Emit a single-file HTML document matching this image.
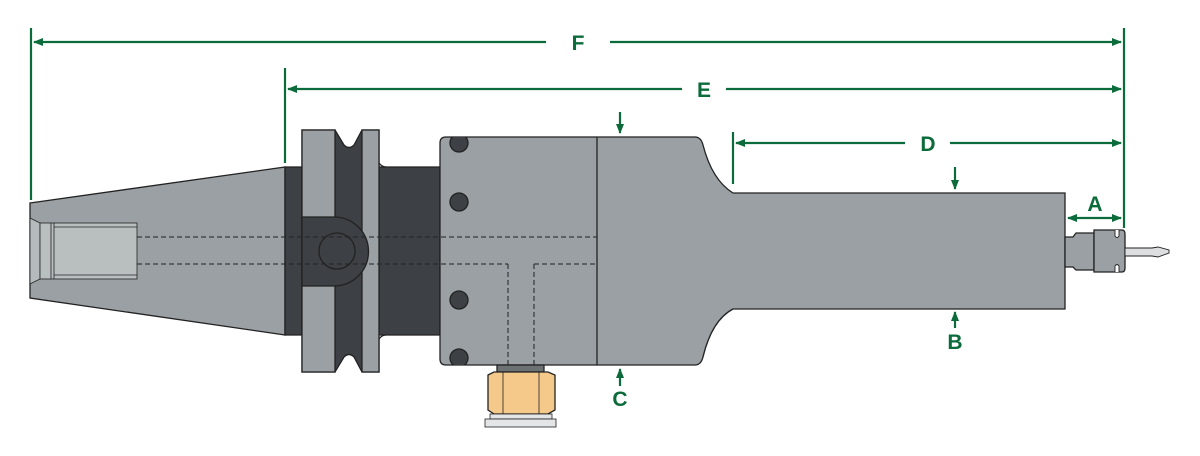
<!DOCTYPE html>
<html><head><style>
html,body{margin:0;padding:0;background:#fff;}
svg{display:block}
text{font-family:"Liberation Sans",sans-serif;font-weight:bold;fill:#0b6b3a;font-size:21px;text-anchor:middle}
</style></head><body>
<svg width="1200" height="456" viewBox="0 0 1200 456" xmlns="http://www.w3.org/2000/svg">
<defs>
<marker id="ar" markerWidth="10" markerHeight="8" refX="9" refY="4" orient="auto" markerUnits="userSpaceOnUse">
<path d="M0,0 L10,4 L0,8 Z" fill="#0b6b3a"/></marker>
<clipPath id="blk"><rect x="440" y="137" width="160" height="228" rx="6"/></clipPath>
</defs>
<g stroke="#222" stroke-width="1.3">
<path d="M30,203 L285,167 L285,335 L30,298 Z" fill="#9aa0a3"/>
<path d="M30,218 L40,223 L40,279 L30,284 Z" fill="#b5babc" stroke-width="0.8"/>
<rect x="40" y="223" width="97" height="56" fill="#b9bebf" stroke-width="0.8"/>
<line x1="51" y1="223" x2="51" y2="279" stroke-width="0.8"/>
<line x1="54" y1="223" x2="54" y2="279" stroke-width="0.8"/>
<line x1="54" y1="227" x2="137" y2="227" stroke-width="0.8"/>
<line x1="54" y1="275" x2="137" y2="275" stroke-width="0.8"/>
<path d="M285,167 L440,167 L440,335 L285,335 Z" fill="#3d4044"/>
<path d="M302,130 L335,130 L344,145 Q349,150 354,145 L362,130 L379,130 L379,372 L362,372 L354,357 Q349,352 344,357 L335,372 L302,372 Z" fill="#3d4044"/>
<rect x="302" y="130" width="33" height="242" fill="#9aa0a3"/>
<rect x="362" y="130" width="17" height="242" fill="#9aa0a3"/>
<path d="M302,217 L334,217 A34,34 0 0 1 334,286 L302,286 Z" fill="#3d4044"/>
<circle cx="337" cy="251" r="18" fill="#3d4044"/>
<path d="M379,163 Q382,167 386,167 M379,339 Q382,335 386,335" fill="none"/>
<path d="M446,137 L695,137 Q701,137 703,145 Q712,180 733,193 L1065,193 L1065,309 L733,309 Q712,320 703,357 Q701,365 695,365 L446,365 Q440,365 440,359 L440,143 Q440,137 446,137 Z" fill="#9aa0a3"/>
<line x1="597" y1="137" x2="597" y2="365"/>
<g clip-path="url(#blk)">
<circle cx="459" cy="143" r="9" fill="#3d4044"/>
<circle cx="459" cy="202" r="9" fill="#3d4044"/>
<circle cx="459" cy="300" r="9" fill="#3d4044"/>
<circle cx="459" cy="358" r="9" fill="#3d4044"/>
</g>
<g stroke-dasharray="5,3" stroke-width="1" fill="none">
<line x1="137" y1="237" x2="597" y2="237"/>
<line x1="137" y1="264" x2="508" y2="264"/>
<line x1="534" y1="264" x2="597" y2="264"/>
<line x1="508" y1="264" x2="508" y2="365"/>
<line x1="534" y1="264" x2="534" y2="365"/>
</g>
<rect x="497" y="365" width="47" height="7" fill="#6c7174"/>
<path d="M488,375 L494,372 L548,372 L555,375 L555,410 L548,414 L494,414 L488,410 Z" fill="#f5c98a"/>
<line x1="503" y1="372" x2="503" y2="414" stroke-width="0.8"/>
<line x1="539" y1="372" x2="539" y2="414" stroke-width="0.8"/>
<rect x="490" y="414" width="62" height="5" fill="#e3e5e6" stroke-width="0.8"/>
<rect x="485" y="419" width="71" height="8" fill="#e3e5e6" stroke-width="0.8"/>
<path d="M1065,237 L1073,237 L1076,233 L1094,233 L1094,270 L1076,270 L1073,267 L1065,267 Z" fill="#9aa0a3"/>
<path d="M1094,230 L1122,230 Q1125,230 1125,234 L1125,268 Q1125,272 1122,272 L1094,272 Z" fill="#9aa0a3"/>
<path d="M1115,230 L1115,236 Q1117,239 1119,236 L1119,230 M1115,272 L1115,266 Q1117,263 1119,266 L1119,272" fill="#fff" stroke-width="0.9"/>
<path d="M1125,248 L1152,248 L1158,247 L1169,250 L1169,253 L1158,257 L1152,256 L1125,256 Z" fill="#dcdedf" stroke-width="0.9"/>
</g>
<g stroke="#0b6b3a" stroke-width="2.2" fill="none">
<line x1="31" y1="28" x2="31" y2="200"/>
<line x1="1124" y1="28" x2="1124" y2="228"/>
<line x1="285" y1="68" x2="285" y2="163"/>
<line x1="733" y1="132" x2="733" y2="184"/>
<line x1="546" y1="42" x2="34" y2="42" marker-end="url(#ar)"/>
<line x1="610" y1="42" x2="1121" y2="42" marker-end="url(#ar)"/>
<line x1="682" y1="89" x2="288" y2="89" marker-end="url(#ar)"/>
<line x1="726" y1="89" x2="1121" y2="89" marker-end="url(#ar)"/>
<line x1="905" y1="143" x2="736" y2="143" marker-end="url(#ar)"/>
<line x1="950" y1="143" x2="1121" y2="143" marker-end="url(#ar)"/>
<line x1="1090" y1="218" x2="1068" y2="218" marker-end="url(#ar)"/>
<line x1="1090" y1="218" x2="1121" y2="218" marker-end="url(#ar)"/>
<line x1="620" y1="112" x2="620" y2="133" marker-end="url(#ar)"/>
<line x1="955" y1="167" x2="955" y2="189" marker-end="url(#ar)"/>
<line x1="620" y1="386" x2="620" y2="369" marker-end="url(#ar)"/>
<line x1="955" y1="328" x2="955" y2="312" marker-end="url(#ar)"/>
</g>
<text x="578" y="50">F</text>
<text x="704" y="97">E</text>
<text x="928" y="151">D</text>
<text x="1095" y="211">A</text>
<text x="955" y="349">B</text>
<text x="620" y="406">C</text>
</svg>
</body></html>
